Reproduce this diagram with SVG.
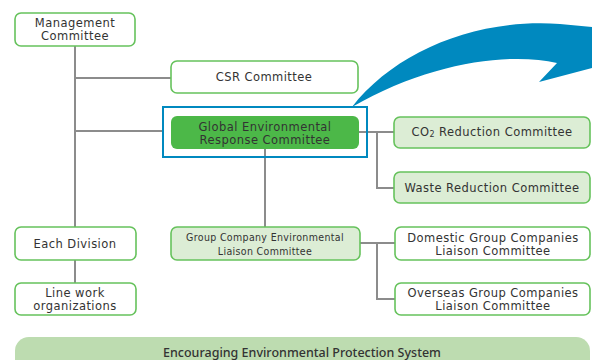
<svg xmlns="http://www.w3.org/2000/svg" width="592" height="360" viewBox="0 0 592 360">
<style>
.box{fill:#fff;stroke:#66c25c;stroke-width:1.6}
.lbox{fill:#dcedd5;stroke:#66c25c;stroke-width:1.6}
.t{font-family:"DejaVu Sans","Noto Sans",sans-serif;font-size:11.5px;letter-spacing:0.45px;fill:#333;text-anchor:middle;dominant-baseline:central}
.s{font-family:"DejaVu Sans Condensed","DejaVu Sans",sans-serif;font-size:10.5px;letter-spacing:0.35px}
.ln{stroke:#8c8c8c;stroke-width:2;fill:none}
</style>
<rect x="15" y="337" width="575" height="40" rx="14" fill="#bddcb0"/>
<text x="302" y="352" style="font-family:'Noto Sans',sans-serif;font-size:12.5px;font-weight:500;fill:#333;text-anchor:middle;dominant-baseline:central">Encouraging Environmental Protection System</text>
<g id="connectors">
<path class="ln" d="M75,46 V228 M75,260 V283 M75,78 H171 M75,131 H163 M265,149 V227 M359,132 H394 M377,132 V188 H394 M360,243 H395 M377,243 V299 H395"/>
</g>
<path id="arrow" fill="#0089bf" d="M352,107 C395,52 475,18 560,24 L592,27 L592,68 L539,82 L557,63 C510,52 430,62 352,107 Z"/>
<g id="mgmt"><rect class="box" x="15" y="13" width="120" height="33" rx="6"/><text class="t" x="75" y="22.5">Management</text><text class="t" x="75" y="36">Committee</text></g>
<g id="csr"><rect class="box" x="171" y="61" width="187" height="32" rx="6"/><text class="t" x="264" y="77">CSR Committee</text></g>
<g id="global"><rect x="163" y="107" width="204" height="50" fill="none" stroke="#0089bf" stroke-width="2"/><rect x="171" y="116" width="188" height="33" rx="6" fill="#4cb848"/><text class="t" x="265" y="126.5">Global Environmental</text><text class="t" x="265" y="140">Response Committee</text></g>
<g id="co2"><rect class="lbox" x="394" y="117" width="196" height="31" rx="6"/><text class="t" x="492" y="132">CO<tspan font-size="8" dy="2">2</tspan><tspan dy="-2"> Reduction Committee</tspan></text></g>
<g id="waste"><rect class="lbox" x="394" y="172" width="196" height="31" rx="6"/><text class="t" x="492" y="188">Waste Reduction Committee</text></g>
<g id="group"><rect class="lbox" x="171" y="227" width="189" height="33" rx="6"/><text class="t s" x="265" y="237">Group Company Environmental</text><text class="t s" x="265" y="250.5">Liaison Committee</text></g>
<g id="domestic"><rect class="box" x="395" y="227" width="195" height="33" rx="6"/><text class="t" x="493" y="237.5">Domestic Group Companies</text><text class="t" x="493" y="251">Liaison Committee</text></g>
<g id="overseas"><rect class="box" x="395" y="283" width="195" height="32" rx="6"/><text class="t" x="493" y="292.5">Overseas Group Companies</text><text class="t" x="493" y="306">Liaison Committee</text></g>
<g id="division"><rect class="box" x="15" y="227" width="121" height="33" rx="6"/><text class="t" x="75" y="244">Each Division</text></g>
<g id="line"><rect class="box" x="15" y="283" width="121" height="32" rx="6"/><text class="t" x="75" y="292.5">Line work</text><text class="t" x="75" y="306">organizations</text></g>
</svg>
